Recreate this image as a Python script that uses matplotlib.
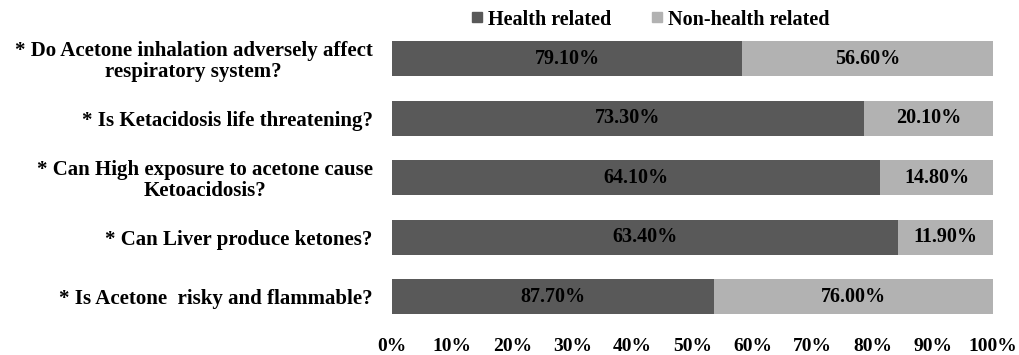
import numpy as np
import matplotlib.pyplot as plt
from matplotlib.ticker import PercentFormatter

# Survey questions, top to bottom
questions = [
    "* Do Acetone inhalation adversely affect\nrespiratory system?",
    "* Is Ketacidosis life threatening?",
    "* Can High exposure to acetone cause\nKetoacidosis?",
    "* Can Liver produce ketones?",
    "* Is Acetone  risky and flammable?",
]
health = [79.10, 73.30, 64.10, 63.40, 87.70]
non_health = [56.60, 20.10, 14.80, 11.90, 76.00]
x_ticks = np.arange(0, 1.01, 0.1)

plt.rcParams['font.family'] = ['Liberation Serif', 'DejaVu Serif']
plt.rcParams['font.weight'] = 'bold'

fig = plt.figure(figsize=(10.19, 3.55), dpi=100)
ax = fig.add_axes([0.3847, 0.0803, 0.5898, 0.838])

h = np.array(health)
n = np.array(non_health)
total = h + n
y = np.arange(len(questions))

dark = '#595959'
light = '#b2b2b2'
bars_h = ax.barh(y, h / total, height=0.58, color=dark, label='Health related')
bars_n = ax.barh(y, n / total, left=h / total, height=0.58, color=light,
                 label='Non-health related')

for rect, v in zip(bars_h, health):
    ax.text(rect.get_x() + rect.get_width() / 2, rect.get_y() + rect.get_height() / 2,
            f"{v:.2f}%", ha='center', va='center', fontsize=14.5, fontweight='bold')
for rect, v in zip(bars_n, non_health):
    ax.text(rect.get_x() + rect.get_width() / 2, rect.get_y() + rect.get_height() / 2,
            f"{v:.2f}%", ha='center', va='center', fontsize=14.5, fontweight='bold')

ax.set_xlim(0, 1)
ax.set_ylim(len(questions) - 0.5, -0.5)
ax.set_xticks(x_ticks)
ax.xaxis.set_major_formatter(PercentFormatter(1.0, decimals=0))
ax.set_yticks(y)
ax.set_yticklabels(questions, fontsize=15, fontweight='bold',
                   ha='right', multialignment='center', linespacing=1.05)
ax.tick_params(axis='y', length=0, pad=14)
ax.tick_params(axis='x', length=0, pad=8, labelsize=14)
for lbl in ax.get_xticklabels():
    lbl.set_fontweight('bold')
for s in ax.spines.values():
    s.set_visible(False)

handles = [
    plt.Line2D([], [], marker='s', linestyle='none', color=dark, markersize=7.5),
    plt.Line2D([], [], marker='s', linestyle='none', color=light, markersize=7.5),
]
fig.legend(handles, ['Health related', 'Non-health related'], loc='center',
           bbox_to_anchor=(0.637, 0.945), ncol=2, frameon=False,
           prop={'size': 14.5, 'weight': 'bold'}, handletextpad=0.15,
           columnspacing=1.9, handlelength=0.8)

fig.savefig('out.png', dpi=100)
